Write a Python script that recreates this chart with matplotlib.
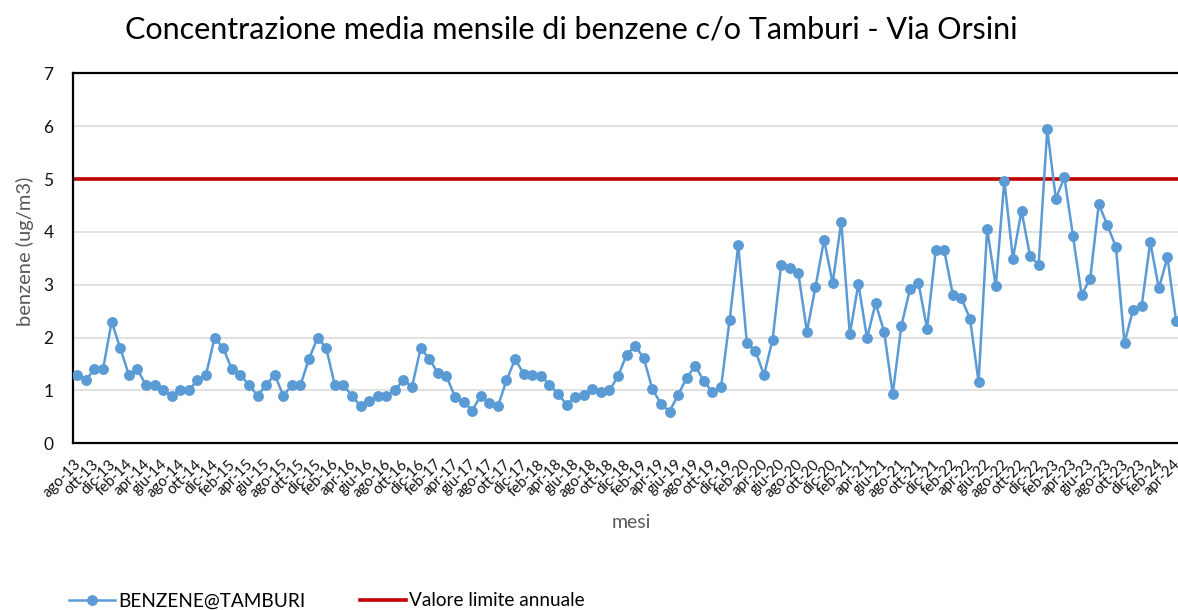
import matplotlib

matplotlib.use("Agg")
import matplotlib.pyplot as plt
from matplotlib.lines import Line2D
from matplotlib.transforms import ScaledTranslation

plt.rcParams["font.family"] = ["Lato", "DejaVu Sans"]

# --- data ---------------------------------------------------------------
MONTHS = ["gen", "feb", "mar", "apr", "mag", "giu",
          "lug", "ago", "set", "ott", "nov", "dic"]
# monthly categories ago-13 .. apr-24
months = []
for y in range(2013, 2025):
    for m in range(12):
        if (y == 2013 and m < 7) or (y == 2024 and m > 3):
            continue
        months.append(f"{MONTHS[m]}-{y % 100:02d}")

benzene = [
    1.3, 1.2, 1.4, 1.4, 2.3, 1.8, 1.3, 1.4, 1.1, 1.1,
    1.0, 0.9, 1.0, 1.0, 1.2, 1.3, 2.0, 1.8, 1.4, 1.3,
    1.1, 0.9, 1.1, 1.3, 0.9, 1.1, 1.1, 1.6, 2.0, 1.8,
    1.1, 1.1, 0.9, 0.7, 0.8, 0.9, 0.9, 1.0, 1.2, 1.07,
    1.8, 1.6, 1.33, 1.27, 0.88, 0.79, 0.62, 0.9, 0.77, 0.7,
    1.19, 1.59, 1.32, 1.3, 1.28, 1.11, 0.94, 0.73, 0.88, 0.92,
    1.03, 0.97, 1.0, 1.27, 1.68, 1.84, 1.61, 1.02, 0.75, 0.6,
    0.92, 1.24, 1.47, 1.17, 0.97, 1.07, 2.34, 3.75, 1.9, 1.75,
    1.29, 1.96, 3.38, 3.31, 3.22, 2.11, 2.96, 3.85, 3.03, 4.19,
    2.06, 3.02, 1.99, 2.65, 2.11, 0.93, 2.22, 2.91, 3.03, 2.17,
    3.65, 3.65, 2.81, 2.74, 2.36, 1.16, 4.06, 2.97, 4.97, 3.49,
    4.4, 3.54, 3.38, 5.94, 4.63, 5.03, 3.92, 2.81, 3.11, 4.52,
    4.13, 3.71, 1.9, 2.53, 2.6, 3.81, 2.93, 3.52, 2.32,
]
limite = 5

C_BLUE = "#5B9BD5"
C_RED = "#C00000"
GRID = "#D9D9D9"
GREY = "#595959"

fig = plt.figure(figsize=(11.78, 6.10), dpi=100)
ax = fig.add_axes([73 / 1178, 1 - 443.3 / 610, 1107.3 / 1178, 370 / 610])

x = list(range(len(months)))
ax.plot(x, benzene, color=C_BLUE, lw=1.8, marker="o", ms=6.8,
        zorder=3, label="BENZENE@TAMBURI")
ax.axhline(limite, color=C_RED, lw=2.6, zorder=2)

ax.set_xlim(-0.5, len(months) - 0.5)
ax.set_ylim(0, 7)
ax.set_yticks(range(0, 8))
ax.grid(axis="y", color=GRID, lw=1.1, zorder=0)
ax.set_axisbelow(True)
for s in ("left", "top", "bottom"):
    ax.spines[s].set_color("black")
    ax.spines[s].set_linewidth(1.6)
ax.spines["right"].set_visible(False)

ax.tick_params(axis="y", length=0, pad=14, labelsize=12.5, labelcolor="#111111")
ax.set_xticks(x[::2])
ax.set_xticklabels(months[::2], rotation=45, ha="right", va="top",
                   rotation_mode="anchor", fontsize=10.8, color="#111111")
ax.tick_params(axis="x", length=0, pad=10)
# Excel sets the rotated labels a touch left of the category centre
off = ScaledTranslation(-3 / 100, 0, fig.dpi_scale_trans)
for lab in ax.get_xticklabels():
    lab.set_transform(lab.get_transform() + off)

fig.text(571 / 1178, 1 - 29 / 610,
         "Concentrazione media mensile di benzene c/o Tamburi - Via Orsini",
         ha="center", va="center", fontsize=22, color="black")
fig.text(25 / 1178, 1 - 251 / 610, "benzene (ug/m3)", rotation=90,
         ha="center", va="center", fontsize=14.5, color=GREY)
fig.text(631 / 1178, 1 - 522 / 610, "mesi", ha="center", va="center",
         fontsize=14, color=GREY)

handles = [
    Line2D([], [], color=C_BLUE, lw=1.8, marker="o", ms=6.8),
    Line2D([], [], color=C_RED, lw=2.6),
]
fig.legend(handles, ["BENZENE@TAMBURI", "Valore limite annuale"],
           loc="center", bbox_to_anchor=(327 / 1178, 1 - 601 / 610),
           ncol=2, frameon=False, fontsize=13.7, handlelength=2.4,
           handletextpad=0.15, columnspacing=2.9)

fig.savefig("out.png", dpi=100, facecolor="white")
